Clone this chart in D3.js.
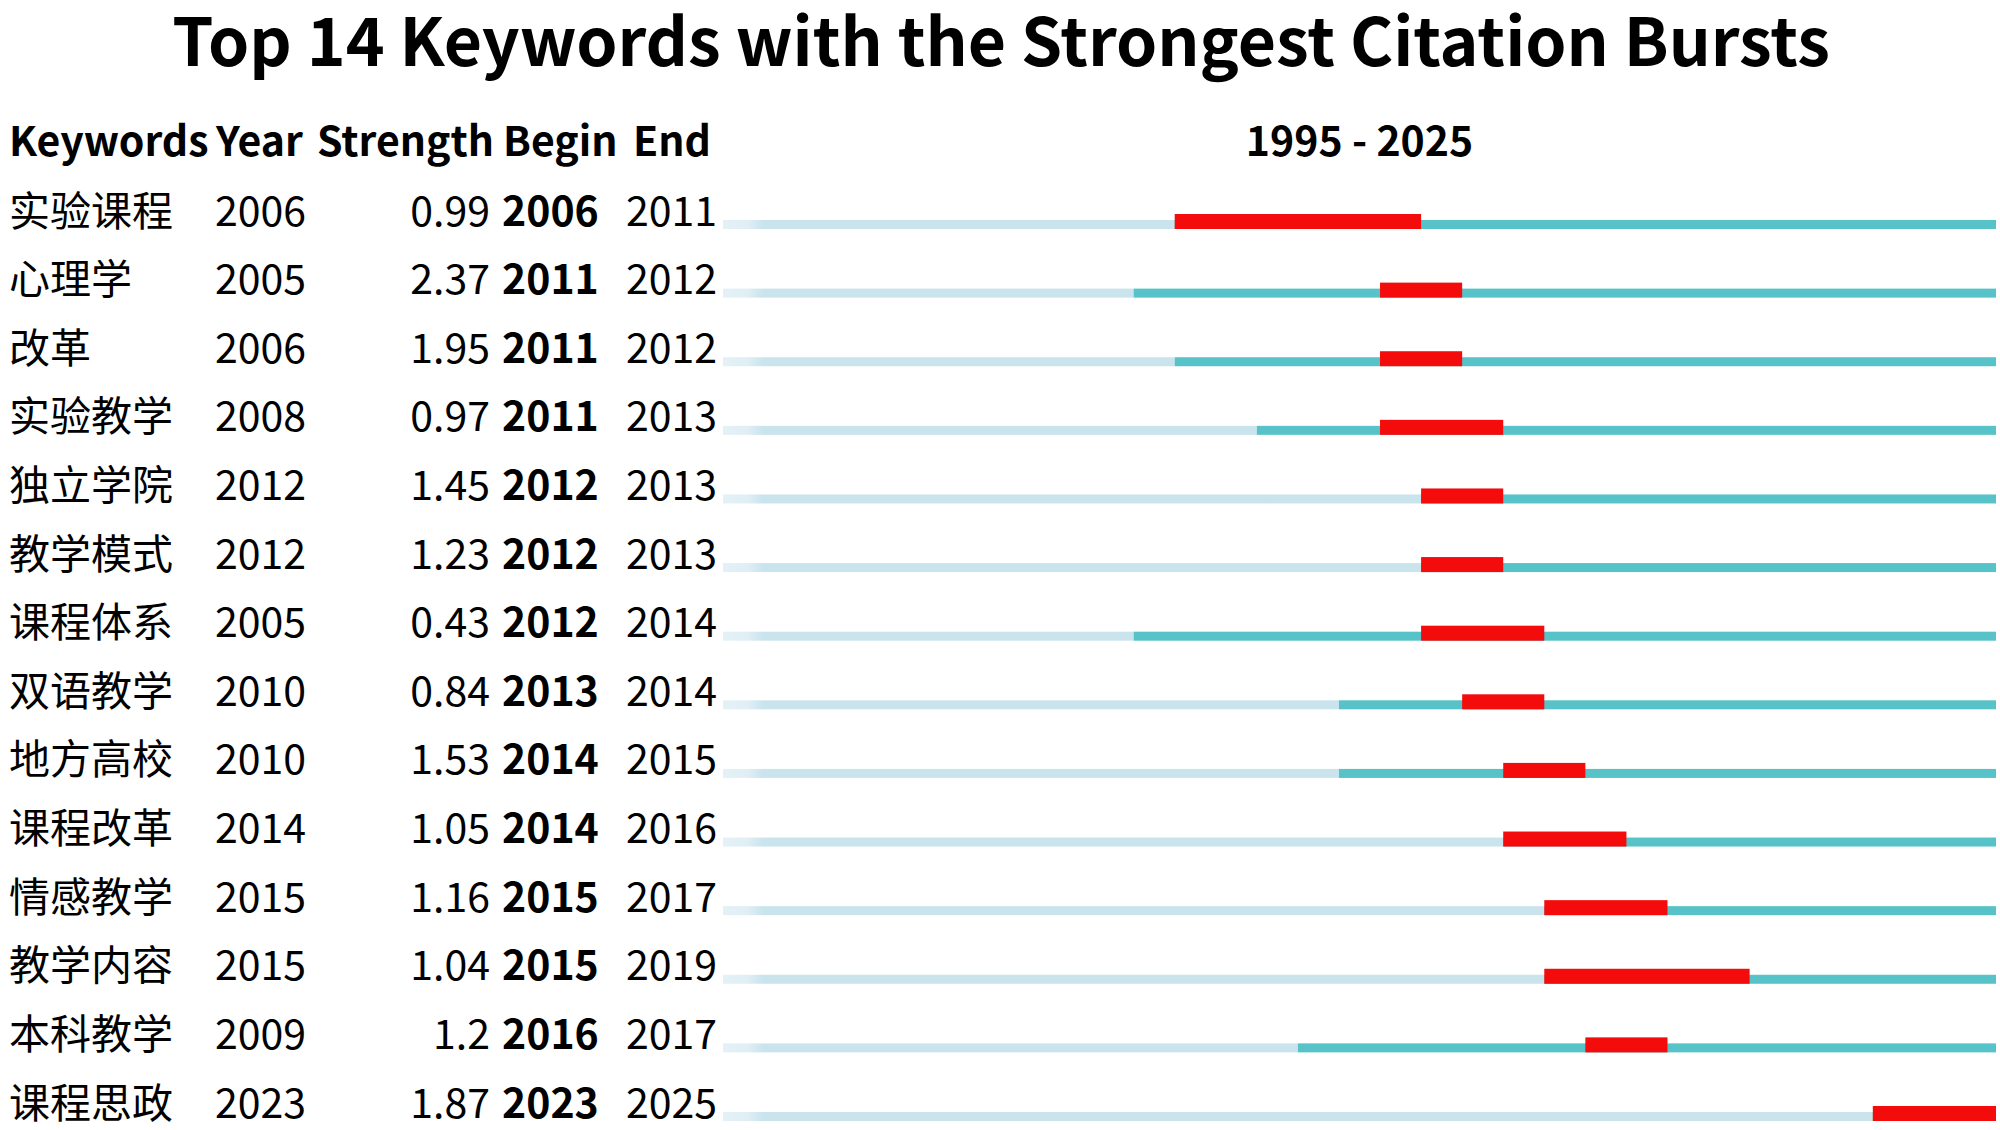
<!DOCTYPE html>
<html><head><meta charset="utf-8">
<script src="https://cdn.jsdelivr.net/npm/d3@7"></script>
<style>
html,body{margin:0;padding:0;background:#fff;}
svg{display:block;font-family:"Noto Sans CJK SC","Noto Sans",sans-serif;}
</style></head>
<body>
<svg id="chart" width="2000" height="1130"></svg>
<script>
const keywords = ['实验课程','心理学','改革','实验教学','独立学院','教学模式','课程体系','双语教学','地方高校','课程改革','情感教学','教学内容','本科教学','课程思政'];
const years    = [2006,2005,2006,2008,2012,2012,2005,2010,2010,2014,2015,2015,2009,2023];
const strength = ['0.99','2.37','1.95','0.97','1.45','1.23','0.43','0.84','1.53','1.05','1.16','1.04','1.2','1.87'];
const begins   = [2006,2011,2011,2011,2012,2012,2012,2013,2014,2014,2015,2015,2016,2023];
const ends     = [2011,2012,2012,2013,2013,2013,2014,2014,2015,2016,2017,2019,2017,2025];
const headers  = ['Keywords','Year','Strength','Begin','End'];
const rangeStart = 1995, rangeEnd = 2025;
const title = 'Top 14 Keywords with the Strongest Citation Bursts';

const svg = d3.select('#chart');
const x = d3.scaleLinear().domain([rangeStart, rangeEnd + 1]).range([723, 1996]);
const y = d3.scalePoint().domain(d3.range(keywords.length)).range([229, 1121]);

const defs = svg.append('defs');
const grad = defs.append('linearGradient').attr('id','lightGrad').attr('gradientUnits','userSpaceOnUse')
  .attr('x1', x(rangeStart)).attr('x2', x(rangeStart) + 40);
grad.append('stop').attr('offset','0').attr('stop-color','#e4f1f6');
grad.append('stop').attr('offset','0.6').attr('stop-color','#e0eff5');
grad.append('stop').attr('offset','1').attr('stop-color','#cae4ee');

svg.append('text').attr('x', 1001).attr('y', 66).attr('text-anchor','middle')
  .attr('font-size', 66).attr('font-weight', 700).attr('fill','#000').text(title);

const colX = [9, 216, 317, 503, 633];
svg.append('g').selectAll('text').data(headers).join('text')
  .attr('x', (d,i) => colX[i]).attr('y', 156)
  .attr('font-size', 41).attr('font-weight', 700).attr('fill','#000').text(d => d);
svg.append('text').attr('x', (x(rangeStart) + x(rangeEnd + 1)) / 2).attr('y', 156)
  .attr('text-anchor','middle').attr('font-size', 41).attr('font-weight', 700)
  .text(rangeStart + ' - ' + rangeEnd);

const rows = svg.append('g').selectAll('g').data(keywords).join('g')
  .attr('transform', (d,i) => `translate(0,${y(i)})`);

const fs = 41, ty = -3.5;
rows.append('text').attr('x', 9).attr('y', ty).attr('font-size', fs).text(d => d);
rows.append('text').attr('x', 215).attr('y', ty).attr('font-size', fs).text((d,i) => years[i]);
rows.append('text').attr('x', 490).attr('y', ty).attr('font-size', fs).attr('text-anchor','end').text((d,i) => strength[i]);
rows.append('text').attr('x', 502).attr('y', ty).attr('font-size', fs).attr('font-weight',700).text((d,i) => begins[i]);
rows.append('text').attr('x', 626).attr('y', ty).attr('font-size', fs).text((d,i) => ends[i]);

const th = 9, rh = 15;
rows.append('rect').attr('x', x(rangeStart)).attr('y', -th)
  .attr('width', (d,i) => x(years[i]) - x(rangeStart)).attr('height', th).attr('fill','url(#lightGrad)');
rows.append('rect').attr('x', (d,i) => x(years[i])).attr('y', -th)
  .attr('width', (d,i) => x(rangeEnd + 1) - x(years[i])).attr('height', th).attr('fill','#57c2c7');
rows.append('rect').attr('x', (d,i) => x(begins[i])).attr('y', -rh)
  .attr('width', (d,i) => x(ends[i] + 1) - x(begins[i])).attr('height', rh).attr('fill','#f40b0b');
</script>
</body></html>
